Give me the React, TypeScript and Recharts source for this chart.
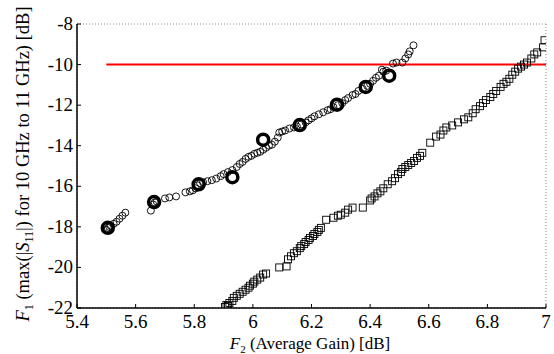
import React from 'react';
import {
  ScatterChart,
  Scatter,
  XAxis,
  YAxis,
  CartesianGrid,
  ReferenceLine,
  Label,
} from 'recharts';

const xTicks = [5.4, 5.6, 5.8, 6, 6.2, 6.4, 6.6, 6.8, 7];
const yTicks = [-22, -20, -18, -16, -14, -12, -10, -8];

// front A (circles): [F2, F1]
const circlePts: [number, number][] = [
  [5.5, -18.15], [5.505, -18.05], [5.51, -18.0], [5.515, -17.95], [5.525, -17.85],
  [5.535, -17.75], [5.545, -17.6], [5.555, -17.45], [5.565, -17.3],
  [5.652, -17.2], [5.66, -16.9], [5.665, -16.8], [5.672, -16.75], [5.7, -16.6],
  [5.715, -16.55], [5.738, -16.5],
  [5.77, -16.3], [5.785, -16.25], [5.795, -16.2], [5.805, -16.1], [5.812, -15.95],
  [5.82, -15.85], [5.83, -15.8], [5.845, -15.75], [5.86, -15.7], [5.875, -15.62],
  [5.89, -15.5], [5.9, -15.4], [5.915, -15.3], [5.93, -15.2], [5.945, -15.05],
  [5.955, -14.9], [5.965, -14.8], [5.975, -14.65], [5.985, -14.55], [5.995, -14.5],
  [6.005, -14.4], [6.015, -14.35], [6.025, -14.3], [6.035, -14.2], [6.045, -14.1],
  [6.055, -14.0], [6.065, -13.95], [6.075, -13.8], [6.085, -13.6], [6.09, -13.35],
  [6.1, -13.3], [6.11, -13.25], [6.125, -13.15], [6.14, -13.1], [6.15, -13.05],
  [6.165, -12.95], [6.18, -12.85], [6.19, -12.75], [6.2, -12.65], [6.21, -12.55],
  [6.225, -12.45], [6.24, -12.35], [6.255, -12.25], [6.265, -12.2], [6.275, -12.1],
  [6.29, -12.0], [6.305, -11.9], [6.315, -11.75], [6.325, -11.65], [6.34, -11.5],
  [6.35, -11.45], [6.36, -11.3], [6.375, -11.2], [6.39, -11.05], [6.4, -10.95],
  [6.41, -10.8], [6.42, -10.65], [6.43, -10.55], [6.44, -10.25], [6.445, -10.35],
  [6.455, -10.3], [6.478, -9.95], [6.49, -9.9], [6.51, -9.9], [6.52, -9.7],
  [6.53, -9.5], [6.535, -9.35], [6.548, -9.05],
];

// front B (squares)
const squarePts: [number, number][] = [
  [5.905, -21.95], [5.91, -21.85], [5.915, -21.9], [5.92, -21.75], [5.93, -21.65],
  [5.935, -21.5], [5.945, -21.4], [5.955, -21.3], [5.965, -21.2], [5.975, -21.1],
  [5.985, -21.0], [5.99, -20.9], [6.0, -20.8], [6.005, -20.7], [6.015, -20.6],
  [6.025, -20.5], [6.035, -20.35], [6.045, -20.3],
  [6.09, -20.0], [6.115, -19.95], [6.12, -19.6], [6.13, -19.45], [6.14, -19.3],
  [6.15, -19.2], [6.16, -19.05], [6.165, -18.95], [6.175, -18.85], [6.18, -18.75],
  [6.19, -18.65], [6.195, -18.55], [6.205, -18.45], [6.21, -18.35], [6.22, -18.25],
  [6.225, -18.15], [6.232, -18.05],
  [6.25, -17.65], [6.275, -17.55], [6.29, -17.45], [6.3, -17.4], [6.315, -17.3],
  [6.325, -17.15], [6.34, -17.05],
  [6.375, -17.05], [6.4, -16.7], [6.405, -16.6], [6.415, -16.5], [6.425, -16.35],
  [6.435, -16.25], [6.445, -16.1], [6.46, -15.9],
  [6.475, -15.75], [6.485, -15.6], [6.495, -15.4], [6.505, -15.3], [6.51, -15.15],
  [6.52, -15.05], [6.53, -14.95], [6.54, -14.85], [6.55, -14.75], [6.56, -14.6],
  [6.57, -14.5], [6.578, -14.35],
  [6.605, -13.85], [6.625, -13.55], [6.64, -13.45], [6.65, -13.25], [6.66, -13.1],
  [6.68, -13.0], [6.7, -12.85], [6.72, -12.7], [6.735, -12.6],
  [6.75, -12.4], [6.76, -12.2], [6.775, -12.05], [6.785, -11.9], [6.795, -11.75],
  [6.81, -11.6], [6.82, -11.45], [6.83, -11.3], [6.845, -11.1], [6.855, -10.95],
  [6.865, -10.85], [6.875, -10.7], [6.885, -10.5], [6.895, -10.35], [6.905, -10.2],
  [6.915, -10.1], [6.925, -10.0], [6.935, -9.9], [6.95, -9.7], [6.96, -9.5],
  [6.97, -9.4], [6.99, -9.15], [6.995, -8.8],
];

// highlighted solutions (bold circles)
const boldPts: [number, number][] = [
  [5.505, -18.05], [5.663, -16.78], [5.815, -15.9], [5.93, -15.55], [6.035, -13.7],
  [6.16, -12.98], [6.287, -11.98], [6.385, -11.1], [6.465, -10.55],
];

const limitY = -10;
const limitX = [5.5, 7];

const toRows = (pts: [number, number][]) => pts.map(([x, y]) => ({ x, y }));
const circles = toRows(circlePts);
const squares = toRows(squarePts);
const bold = toRows(boldPts);

const FONT = 'Liberation Serif';

const SmallCircle = (p: any) => (
  <circle cx={p.cx} cy={p.cy} r={3.5} fill="none" stroke="#000" strokeWidth={0.9} />
);
const Square = (p: any) => (
  <rect x={p.cx - 3.5} y={p.cy - 3.5} width={7} height={7} fill="none" stroke="#000" strokeWidth={0.9} />
);
const BoldCircle = (p: any) => (
  <circle cx={p.cx} cy={p.cy} r={5.5} fill="none" stroke="#000" strokeWidth={3.5} />
);

const XTick = (p: any) => (
  <text x={p.x} y={p.y + 16} textAnchor="middle" fontFamily={FONT} fontSize={19} fill="#000">
    {p.payload.value}
  </text>
);
const YTick = (p: any) => (
  <text x={p.x} y={p.y + 6} textAnchor="end" fontFamily={FONT} fontSize={19} fill="#000">
    {p.payload.value}
  </text>
);

const XTitle = () => (
  <text x={310} y={349} textAnchor="middle" fontFamily={FONT} fontSize={17} fill="#000">
    <tspan fontStyle="italic">F</tspan>
    <tspan fontSize={11} dy={4}>2</tspan>
    <tspan dy={-4}> (Average Gain) [dB]</tspan>
  </text>
);

const YTitle = () => (
  <text
    x={0}
    y={0}
    transform="translate(29,164) rotate(-90)"
    textAnchor="middle"
    fontFamily={FONT}
    fontSize={18.5}
    fill="#000"
  >
    <tspan fontStyle="italic">F</tspan>
    <tspan fontSize={12} dy={4}>1</tspan>
    <tspan dy={-4}> (max(|</tspan>
    <tspan fontStyle="italic">S</tspan>
    <tspan fontSize={12} dy={4}>11</tspan>
    <tspan dy={-4}>|) for 10 GHz to 11 GHz) [dB]</tspan>
  </text>
);

export default function App() {
  return (
    <div style={{ position: 'absolute', left: 0, top: 0, background: '#fff' }}>
      <ScatterChart width={554} height={354} margin={{ top: 24, right: 8, bottom: 0, left: 0 }}>
        <CartesianGrid stroke="#888" strokeDasharray="1 2" />
        <XAxis
          xAxisId="b"
          type="number"
          dataKey="x"
          domain={[5.4, 7]}
          ticks={xTicks}
          allowDataOverflow
          height={46}
          tickSize={-4}
          tickMargin={8}
          tick={<XTick />}
          axisLine={{ stroke: '#000', strokeWidth: 1.5 }}
          tickLine={{ stroke: '#000' }}
        >
          <Label content={<XTitle />} />
        </XAxis>
        <XAxis
          xAxisId="t"
          orientation="top"
          type="number"
          dataKey="x"
          domain={[5.4, 7]}
          ticks={xTicks}
          allowDataOverflow
          height={0}
          tickSize={-4}
          tick={false}
          axisLine={{ stroke: '#000', strokeWidth: 1.5 }}
          tickLine={{ stroke: '#000' }}
        />
        <YAxis
          yAxisId="l"
          type="number"
          dataKey="y"
          domain={[-22, -8]}
          ticks={yTicks}
          allowDataOverflow
          width={77}
          tickSize={-4}
          tickMargin={8}
          tick={<YTick />}
          axisLine={{ stroke: '#000', strokeWidth: 1.5 }}
          tickLine={{ stroke: '#000' }}
        >
          <Label content={<YTitle />} />
        </YAxis>
        <YAxis
          yAxisId="r"
          orientation="right"
          type="number"
          dataKey="y"
          domain={[-22, -8]}
          ticks={yTicks}
          allowDataOverflow
          width={0}
          tickSize={-4}
          tick={false}
          axisLine={{ stroke: '#000', strokeWidth: 1.5 }}
          tickLine={{ stroke: '#000' }}
        />
        <Scatter xAxisId="b" yAxisId="l" data={circles} shape={SmallCircle} isAnimationActive={false} />
        <Scatter xAxisId="b" yAxisId="l" data={squares} shape={Square} isAnimationActive={false} />
        <Scatter xAxisId="b" yAxisId="l" data={bold} shape={BoldCircle} isAnimationActive={false} />
        <ReferenceLine
          xAxisId="b"
          yAxisId="l"
          segment={[{ x: limitX[0], y: limitY }, { x: limitX[1], y: limitY }]}
          stroke="#ff0000"
          strokeWidth={2}
          ifOverflow="visible"
        />
      </ScatterChart>
    </div>
  );
}
